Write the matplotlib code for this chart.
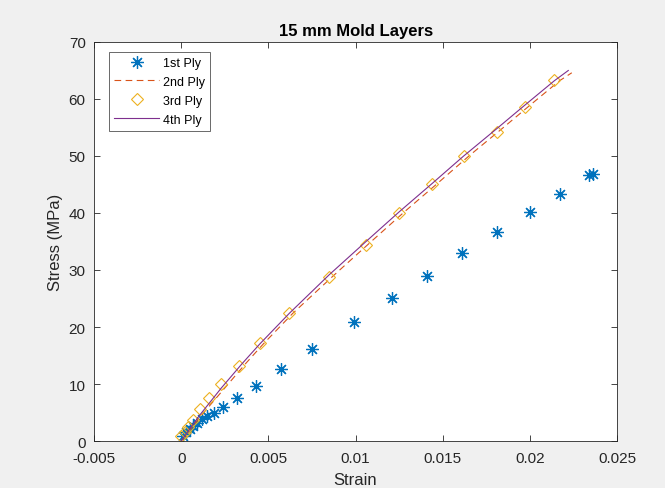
import matplotlib
matplotlib.use("Agg")
import matplotlib.pyplot as plt

plt.rcParams["font.family"] = ["Liberation Sans", "DejaVu Sans"]

# 1st ply (markers only)
ply1_strain = [0.0001, 0.0003, 0.0005, 0.0007, 0.0009, 0.0012, 0.0015, 0.0019, 0.0024, 0.0032,
               0.0043, 0.0057, 0.0075, 0.0099, 0.0121, 0.0141, 0.0161, 0.0181, 0.0200, 0.0217,
               0.0234, 0.0236]
ply1_stress = [0.8, 1.5, 2.1, 2.7, 3.2, 3.8, 4.4, 5.0, 6.0, 7.6,
               9.7, 12.6, 16.2, 20.9, 25.1, 29.0, 32.9, 36.6, 40.1, 43.3,
               46.6, 46.9]

# 2nd ply (dashed line)
ply2_strain = [0.0, 0.0011, 0.0025, 0.0037, 0.0047, 0.0064, 0.0088, 0.0109, 0.0128, 0.0147,
               0.0165, 0.0184, 0.0200, 0.0217, 0.0224]
ply2_stress = [0.0, 4.3, 9.3, 13.6, 17.0, 22.4, 29.2, 35.0, 40.2, 45.2,
               50.0, 54.8, 58.9, 63.2, 64.6]

# 3rd ply (open diamonds)
ply3_strain = [0.0, 0.0002, 0.0004, 0.0007, 0.0011, 0.0016, 0.0023, 0.0033, 0.0045, 0.0062,
               0.0085, 0.0106, 0.0125, 0.0144, 0.0162, 0.0181, 0.0197, 0.0214]
ply3_stress = [0.8, 1.5, 2.4, 3.6, 5.6, 7.5, 10.0, 13.1, 17.2, 22.4,
               28.8, 34.4, 40.0, 45.0, 50.0, 54.2, 58.6, 63.4]

# 4th ply (solid line)
ply4_strain = [0.0, 0.0010, 0.0023, 0.0035, 0.0045, 0.0062, 0.0085, 0.0106, 0.0125, 0.0144,
               0.0162, 0.0181, 0.0197, 0.0214, 0.0222]
ply4_stress = [0.0, 4.3, 9.3, 13.6, 17.0, 22.4, 29.2, 35.0, 40.2, 45.2,
               50.0, 54.8, 58.9, 63.2, 65.0]

x_ticks = [-0.005, 0, 0.005, 0.01, 0.015, 0.02, 0.025]
x_labels = ["-0.005", "0", "0.005", "0.01", "0.015", "0.02", "0.025"]
y_ticks = [0, 10, 20, 30, 40, 50, 60, 70]

fig = plt.figure(figsize=(6.65, 4.89), dpi=100, facecolor="#f0f0f0")
ax = fig.add_axes([0.1414, 0.0961, 0.7866, 0.8160])
ax.set_facecolor("white")

ax.plot(ply1_strain, ply1_stress, linestyle="none", marker=(8, 2, 0), markersize=9,
        markeredgewidth=0.9, color="#0072BD", label="1st Ply")
ax.plot(ply2_strain, ply2_stress, linestyle=(0, (6, 4)), linewidth=0.8,
        color="#D95319", label="2nd Ply")
ax.plot(ply3_strain, ply3_stress, linestyle="none", marker="D", markersize=6.5,
        markerfacecolor="none", markeredgewidth=0.8, color="#EDB120", label="3rd Ply")
ax.plot(ply4_strain, ply4_stress, linestyle="-", linewidth=0.8,
        color="#7E2F8E", label="4th Ply")

ax.set_xlim(-0.005, 0.025)
ax.set_ylim(0, 70)
ax.set_xticks(x_ticks)
ax.set_xticklabels(x_labels)
ax.set_yticks(y_ticks)
ax.tick_params(direction="in", top=True, right=True, length=4, width=0.6,
               labelsize=11, colors="#262626")
ax.tick_params(axis="x", pad=7)
ax.tick_params(axis="y", pad=6)
for s in ax.spines.values():
    s.set_color("#262626")
    s.set_linewidth(0.6)

ax.set_xlabel("Strain", fontsize=12, color="#262626", labelpad=5)
ax.set_ylabel("Stress (MPa)", fontsize=12, color="#262626", labelpad=4)
ax.set_title("15 mm Mold Layers", fontsize=12, fontweight="bold", pad=5)

leg = ax.legend(loc="upper left", bbox_to_anchor=(0.0287, 0.975), borderaxespad=0,
                fontsize=9, frameon=True, fancybox=False, edgecolor="#262626",
                handlelength=3.6, labelspacing=0.55, borderpad=0.4, handletextpad=0.3)
leg.get_frame().set_linewidth(0.6)

fig.savefig("out.png", dpi=100, facecolor=fig.get_facecolor())
